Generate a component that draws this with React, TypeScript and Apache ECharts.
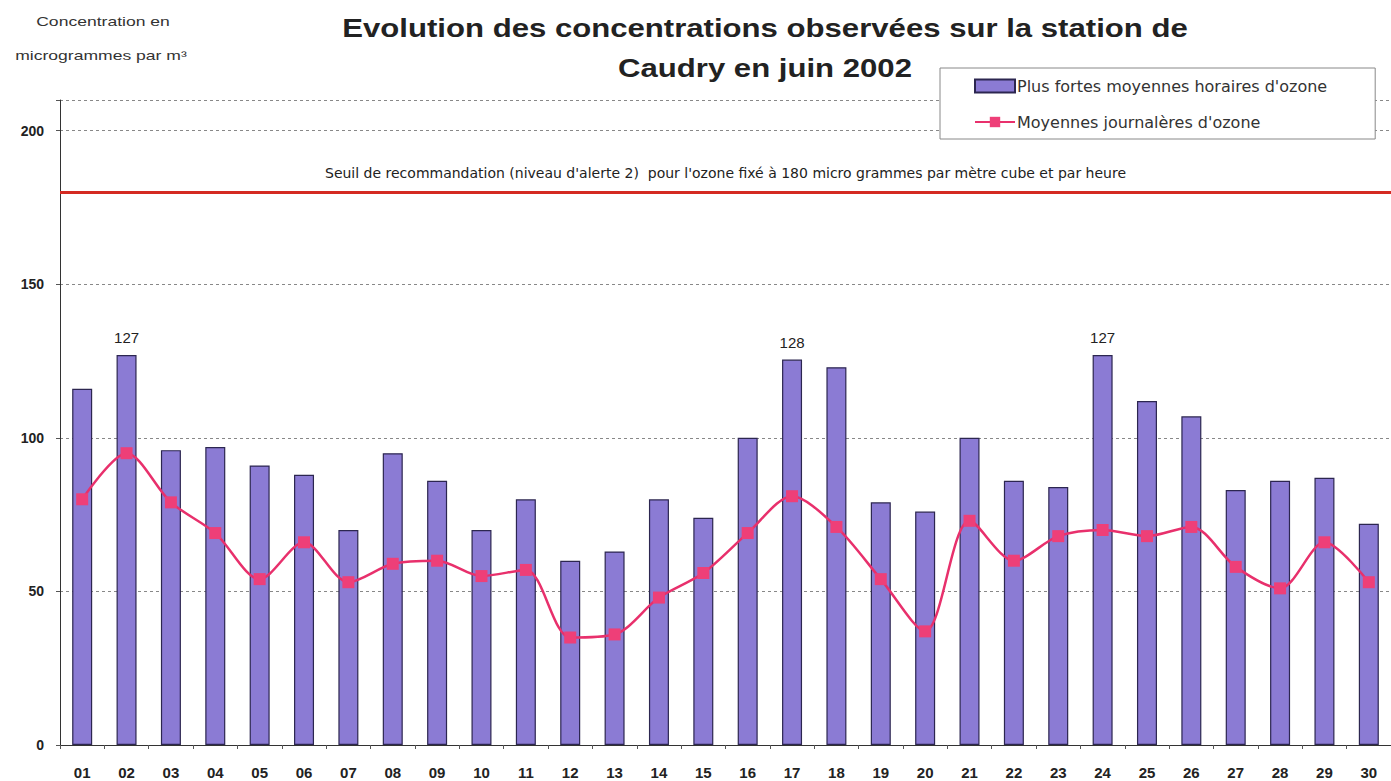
import React, { useEffect, useRef } from "react";
import * as echarts from "echarts";

const days = ["01","02","03","04","05","06","07","08","09","10","11","12","13","14","15","16","17","18","19","20","21","22","23","24","25","26","27","28","29","30"];
const maxHourly = [116,127,96,97,91,88,70,95,86,70,80,60,63,80,74,100,125.5,123,79,76,100,86,84,127,112,107,83,86,87,72];
const dailyMean = [80,95,79,69,54,66,53,59,60,55,57,35,36,48,56,69,81,71,54,37,73,60,68,70,68,71,58,51,66,53];
const peakLabels = ["","127","","","","","","","","","","","","","","","128","","","","","","","127","","","","","",""];
const yTicks = [0, 50, 100, 150, 200];
const threshold = 180;
const thresholdText = "Seuil de recommandation (niveau d'alerte 2)  pour l'ozone fixé à 180 micro grammes par mètre cube et par heure";
const seriesNames = ["Plus fortes moyennes horaires d'ozone", "Moyennes journalères d'ozone"];
const titleLines = ["Evolution des concentrations observées sur la station de", "Caudry en juin 2002"];
const yNameLines = ["Concentration en", "microgrammes par m³"];

export default function App() {
  const ref = useRef<HTMLDivElement>(null);
  useEffect(() => {
    if (!ref.current) return;
    const chart = echarts.init(ref.current, undefined, { renderer: "svg" });
    const font = "'Liberation Sans', Arial, sans-serif";
    const wide = "'DejaVu Sans', 'Liberation Sans', sans-serif";
    chart.setOption({
      animation: false,
      backgroundColor: "#ffffff",
      textStyle: { fontFamily: font },
      graphic: [
        { type: "text", x: 765, y: 16, scaleX: 1.245, style: { text: titleLines[0], x: 0, y: 0, fill: "#222", font: `bold 25px ${font}`, textAlign: "center" } },
        { type: "text", x: 765, y: 56, scaleX: 1.245, style: { text: titleLines[1], x: 0, y: 0, fill: "#222", font: `bold 25px ${font}`, textAlign: "center" } },
        { type: "text", x: 103, y: 15, scaleX: 1.35, style: { text: yNameLines[0], x: 0, y: 0, fill: "#333", font: `13px ${font}`, textAlign: "center" } },
        { type: "text", x: 101, y: 49, scaleX: 1.35, style: { text: yNameLines[1], x: 0, y: 0, fill: "#333", font: `13px ${font}`, textAlign: "center" } },
      ],
      legend: {
        orient: "vertical",
        left: 940,
        top: 68,
        backgroundColor: "#ffffff",
        borderColor: "#888",
        borderWidth: 1,
        borderRadius: 0,
        padding: [10, 48, 9, 34],
        itemGap: 20,
        itemWidth: 40,
        itemHeight: 13,
        textStyle: { fontSize: 16, color: "#333", fontFamily: wide, padding: [0, 0, 0, -3] },
        data: [
          { name: seriesNames[0], icon: "rect" },
          { name: seriesNames[1] },
        ],
      },
      grid: { left: 60, top: 100, width: 1335, bottom: 36, containLabel: false },
      xAxis: {
        type: "category",
        data: days,
        axisLine: { lineStyle: { color: "#333", width: 1 } },
        axisTick: { show: true, alignWithLabel: false, length: 4, lineStyle: { color: "#555" } },
        axisLabel: { color: "#222", fontSize: 15, fontWeight: "bold", margin: 20, fontFamily: font },
      },
      yAxis: {
        type: "value",
        min: 0,
        max: 210,
        interval: 50,
        axisLine: { show: true, lineStyle: { color: "#333", width: 1 } },
        axisTick: { show: true, length: 4, lineStyle: { color: "#555" } },
        axisLabel: {
          color: "#222",
          fontSize: 14,
          fontWeight: "bold",
          margin: 16,
          fontFamily: font,
          formatter: (v: number) => (yTicks.includes(v) ? String(v) : ""),
        },
        splitLine: { show: true, lineStyle: { color: "#888", type: [3, 3], width: 1 } },
      },
      series: [
        {
          name: seriesNames[0],
          type: "bar",
          data: maxHourly,
          barWidth: 20,
          itemStyle: { color: "#8b7bd4", borderColor: "#2c2650", borderWidth: 1.2 },
          label: {
            show: true,
            position: "top",
            distance: 10,
            fontSize: 15,
            color: "#222",
            fontFamily: font,
            formatter: (p: any) => peakLabels[p.dataIndex],
          },
          markLine: {
            silent: true,
            symbol: ["none", "none"],
            lineStyle: { color: "#d42a22", width: 3, type: "solid" },
            label: {
              show: true,
              position: "insideMiddleTop",
              formatter: thresholdText,
              fontSize: 14,
              color: "#222",
              distance: 12,
              fontFamily: wide,
            },
            data: [{ yAxis: threshold }],
          },
        },
        {
          name: seriesNames[1],
          type: "line",
          data: dailyMean,
          smooth: 0.3,
          symbol: "rect",
          symbolSize: 12,
          lineStyle: { color: "#e8306c", width: 2.5 },
          itemStyle: { color: "#ee3f78" },
          z: 5,
        },
      ],
    });
    return () => chart.dispose();
  }, []);
  return <div ref={ref} style={{ position: "fixed", left: 0, top: 0, width: 1391, height: 781 }} />;
}
